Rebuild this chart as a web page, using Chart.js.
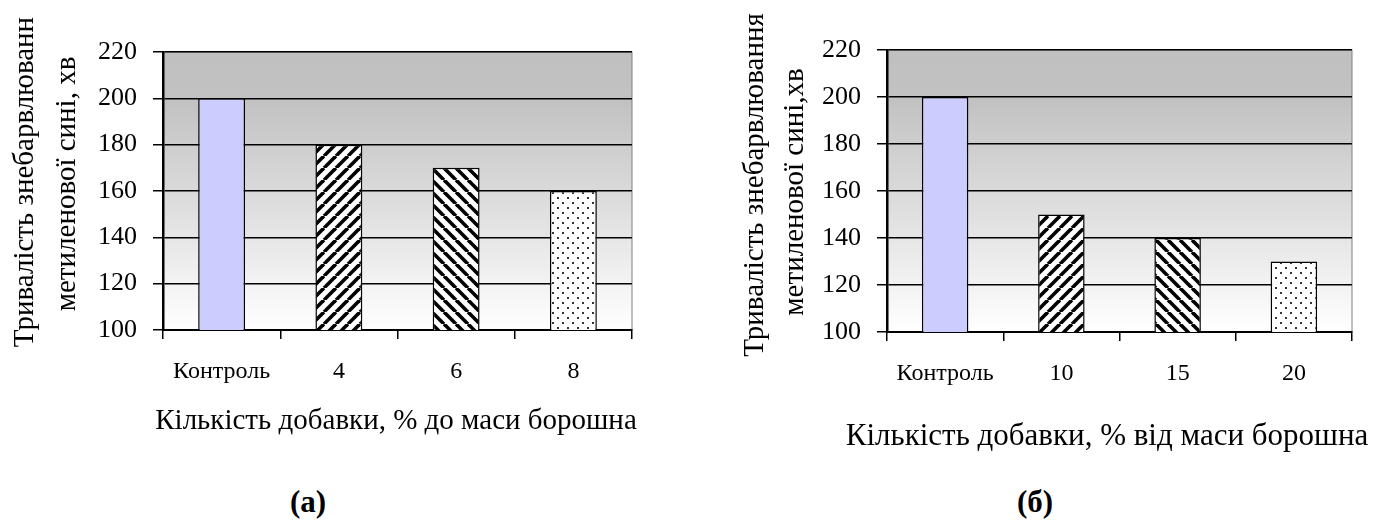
<!DOCTYPE html>
<html>
<head>
<meta charset="utf-8">
<script src="https://cdn.jsdelivr.net/npm/chart.js@4/dist/chart.umd.min.js"></script>
<style>
    body { margin: 0; background: #fff; width: 1376px; height: 522px; overflow: hidden; position: relative; font-family: "Liberation Serif", serif; }
    .box { position: absolute; top: 0; width: 688px; height: 470px; }
    .tag { position: absolute; top: 484px; font-weight: bold; font-size: 31px; line-height: 36px; transform: translateX(-50%); }
</style>
</head>
<body>
<div class="box" style="left:0"><canvas id="chartA" width="688" height="470"></canvas></div>
<div class="box" style="left:688px"><canvas id="chartB" width="688" height="470"></canvas></div>
<div class="tag" style="left:308px">(а)</div>
<div class="tag" style="left:1035px">(б)</div>
<script>
const categoriesA = ['Контроль', '4', '6', '8'];
const valuesA = [200, 180, 170, 160];
const categoriesB = ['Контроль', '10', '15', '20'];
const valuesB = [200, 150, 140, 130];
const yMin = 100, yMax = 220, yStep = 20;

const titleA = ['Тривалість знебарвлюванн', 'метиленової сині, хв'];
const titleB = ['Тривалість знебарвлювання', 'метиленової сині,хв'];
const xTitleA = 'Кількість добавки, % до маси борошна';
const xTitleB = 'Кількість добавки, % від маси борошна';

// візерунки для стовпців
function stripes(dir) {
    const c = document.createElement('canvas');
    c.width = c.height = 12;
    const g = c.getContext('2d');
    g.fillStyle = '#fff';
    g.fillRect(0, 0, 12, 12);
    g.strokeStyle = '#000';
    g.lineWidth = 3.6;
    for (const o of [-12, 0, 12]) {
        g.beginPath();
        if (dir === '/') { g.moveTo(o, 12); g.lineTo(o + 12, 0); }
        else { g.moveTo(o, 0); g.lineTo(o + 12, 12); }
        g.stroke();
    }
    return g.createPattern(c, 'repeat');
}
function dots() {
    const c = document.createElement('canvas');
    c.width = c.height = 10;
    const g = c.getContext('2d');
    g.fillStyle = '#fff';
    g.fillRect(0, 0, 10, 10);
    g.fillStyle = '#333';
    g.fillRect(2, 2, 2, 2);
    g.fillRect(7, 7, 2, 2);
    return g.createPattern(c, 'repeat');
}
const fills = ['#ccccff', stripes('/'), stripes('\\'), dots()];

const decor = {
    id: 'decor',
    beforeDraw(chart, args, o) {
        const a = chart.chartArea, ctx = chart.ctx;
        const gr = ctx.createLinearGradient(0, a.top, 0, a.bottom);
        gr.addColorStop(0, '#c0c0c0');
        gr.addColorStop(0.18, '#c2c2c2');
        gr.addColorStop(1, '#ffffff');
        ctx.save();
        ctx.fillStyle = gr;
        ctx.fillRect(a.left, a.top, a.right - a.left, a.bottom - a.top);
        ctx.strokeStyle = '#808080';
        ctx.lineWidth = 1;
        ctx.strokeRect(a.left, a.top, a.right - a.left, a.bottom - a.top);
        ctx.restore();
    },
    afterDraw(chart, args, o) {
        const ctx = chart.ctx;
        ctx.save();
        ctx.fillStyle = '#000';
        ctx.font = '29px "Liberation Serif"';
        ctx.textAlign = 'center';
        ctx.textBaseline = 'middle';
        o.lines.forEach((t, i) => {
            ctx.save();
            ctx.translate(o.lx[i], o.cy[i]);
            ctx.rotate(-Math.PI / 2);
            ctx.fillText(t, 0, 0);
            ctx.restore();
        });
        ctx.font = o.xFont + 'px "Liberation Serif"';
        ctx.fillText(o.xTitle, o.xt[0], o.xt[1]);
        ctx.restore();
    }
};

function makeChart(id, cats, vals, pad, opts) {
    return new Chart(document.getElementById(id), {
        type: 'bar',
        data: {
            labels: cats,
            datasets: [{
                data: vals,
                backgroundColor: fills,
                borderColor: '#000',
                borderWidth: 1.5,
                borderSkipped: false,
                barPercentage: 0.8,
                categoryPercentage: 0.5
            }]
        },
        options: {
            responsive: false,
            animation: false,
            layout: { padding: pad },
            plugins: { legend: { display: false }, tooltip: { enabled: false }, decor: opts },
            scales: {
                x: {
                    grid: { offset: true, drawOnChartArea: false, color: '#000', lineWidth: 1.5, tickLength: 9 },
                    border: { color: '#000', width: 2 },
                    ticks: { color: '#000', font: { family: 'Liberation Serif', size: 24 }, padding: 18 },
                    afterFit(s) { s.height = 470 - pad.top - (pad.bottom || 0) - opts.plotH; }
                },
                y: {
                    min: yMin, max: yMax,
                    grid: { color: '#000', lineWidth: 1.5, tickLength: 10 },
                    border: { color: '#000', width: 2.5 },
                    ticks: { stepSize: yStep, color: '#000', font: { family: 'Liberation Serif', size: 26 }, padding: 16 },
                    afterFit(s) { s.width = opts.yW; }
                }
            }
        },
        plugins: [decor]
    });
}

makeChart('chartA', categoriesA, valuesA, { left: 0, top: 52, right: 56, bottom: 0 },
    { lines: titleA, lx: [25, 67], cy: [182, 184], xTitle: xTitleA, xFont: 29, xt: [396, 421], plotH: 278, yW: 163 });
makeChart('chartB', categoriesB, valuesB, { left: 0, top: 50, right: 24, bottom: 0 },
    { lines: titleB, lx: [67, 107], cy: [185, 192], xTitle: xTitleB, xFont: 31, xt: [419, 437], plotH: 282, yW: 199 });
</script>
</body>
</html>
